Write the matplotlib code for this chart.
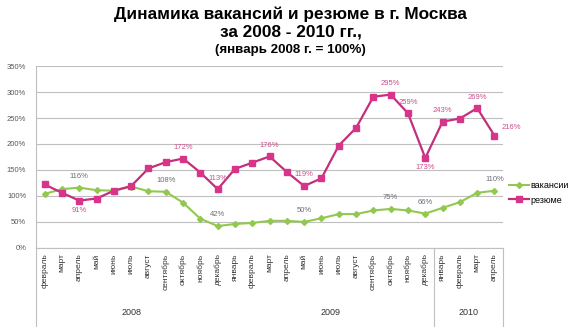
import numpy as np
import matplotlib
matplotlib.use('Agg')
import matplotlib.pyplot as plt
import matplotlib.transforms as mtransforms

plt.rcParams['font.family'] = ['Liberation Sans', 'DejaVu Sans']

# months shown on the axis, grouped by year
months_2008 = ['февраль', 'март', 'апрель', 'май', 'июнь', 'июль', 'август',
               'сентябрь', 'октябрь', 'ноябрь', 'декабрь']
months_2009 = ['январь', 'февраль', 'март', 'апрель', 'май', 'июнь', 'июль',
               'август', 'сентябрь', 'октябрь', 'ноябрь', 'декабрь']
months_2010 = ['январь', 'февраль', 'март', 'апрель']
years = ['2008', '2009', '2010']

# index values, January 2008 = 100%
vacancies = [104, 113, 116, 111, 110, 118, 109, 108, 87, 56, 42,
             46, 48, 52, 52, 50, 57, 65, 65, 72, 75, 72, 66,
             77, 88, 106, 110]
resumes = [122, 106, 91, 95, 110, 119, 153, 165, 172, 145, 113,
           152, 164, 176, 146, 119, 134, 197, 231, 291, 295, 259, 173,
           243, 249, 269, 216]

# which points carry a data label
vac_labeled = [2, 7, 10, 15, 20, 22, 26]
res_labeled_above = [8, 10, 13, 15, 20, 21, 23, 25]
res_labeled_below = [2, 22]
res_labeled_right = [26]

GREEN = '#92c84f'
PINK = '#d8358a'
GRAY = '#bfbfbf'


def label_points(ax, values, idx, color, dx, dy, ha='center'):
    '''
    Writes "NN%" next to the chosen points.
    '''
    for i in idx:
        ax.annotate('%d%%' % values[i], (i, values[i]), xytext=(dx, dy),
                    textcoords='offset points', ha=ha, va='center',
                    fontsize=5.5, color=color)


def draw_chart(fname='out.png'):
    months = months_2008 + months_2009 + months_2010
    groups = [len(months_2008), len(months_2009), len(months_2010)]
    x = np.arange(len(months))

    fig = plt.figure(figsize=(5.81, 3.27), dpi=100)
    ax = fig.add_axes([0.062, 0.242, 0.804, 0.556])

    ax.plot(x, vacancies, color=GREEN, lw=1.5, marker='D', ms=3,
            label='вакансии', zorder=3)
    ax.plot(x, resumes, color='#c2307c', lw=1.6, marker='s', ms=5,
            mfc=PINK, mec=PINK, label='резюме', zorder=3)

    label_points(ax, vacancies, vac_labeled, '#6d6d7a', 0, 8)
    label_points(ax, resumes, res_labeled_above, '#c8508e', 0, 8)
    label_points(ax, resumes, res_labeled_below, '#c8508e', 0, -7)
    label_points(ax, resumes, res_labeled_right, '#c8508e', 5, 6, ha='left')

    ax.set_xlim(-0.5, len(months) - 0.5)
    ax.set_ylim(0, 350)
    ax.set_yticks(np.arange(0, 351, 50))
    ax.set_yticklabels(['%d%%' % v for v in range(0, 351, 50)])
    ax.tick_params(axis='y', length=0, labelsize=5.5, labelcolor='#595959', pad=7)
    ax.set_xticks(x)
    ax.set_xticklabels(months, rotation=90, fontsize=6, color='#333333')
    ax.tick_params(axis='x', length=0, pad=4)
    ax.yaxis.grid(True, color=GRAY, lw=0.8)
    ax.set_axisbelow(True)
    for s in ['top', 'right']:
        ax.spines[s].set_visible(False)
    ax.spines['left'].set_color(GRAY)
    ax.spines['bottom'].set_color(GRAY)

    # year grouping below the month names
    trans = mtransforms.blended_transform_factory(ax.transData, ax.transAxes)
    edges = np.cumsum([0] + groups) - 0.5
    for e in [edges[0], edges[2], edges[3]]:
        ax.plot([e, e], [0, -0.44], color=GRAY, lw=0.8, transform=trans, clip_on=False)
    for k, yr in enumerate(years):
        mid = (edges[k] + edges[k + 1]) / 2
        ax.text(mid, -0.355, yr, transform=trans, ha='center', va='center',
                fontsize=6.5, color='#333333')

    fig.legend(loc='center left', bbox_to_anchor=(0.862, 0.41), frameon=False,
               fontsize=6.5, handlelength=2.2, handletextpad=0.2, labelspacing=0.6)

    fig.text(0.5, 0.957, 'Динамика вакансий и резюме в г. Москва', ha='center',
             va='center', fontsize=12.4, fontweight='bold')
    fig.text(0.5, 0.903, 'за 2008 - 2010 гг.,', ha='center', va='center',
             fontsize=12.4, fontweight='bold')
    fig.text(0.5, 0.847, '(январь 2008 г. = 100%)', ha='center', va='center',
             fontsize=9.6, fontweight='bold')

    plt.savefig(fname, dpi=100)


if __name__ == '__main__':
    draw_chart()
